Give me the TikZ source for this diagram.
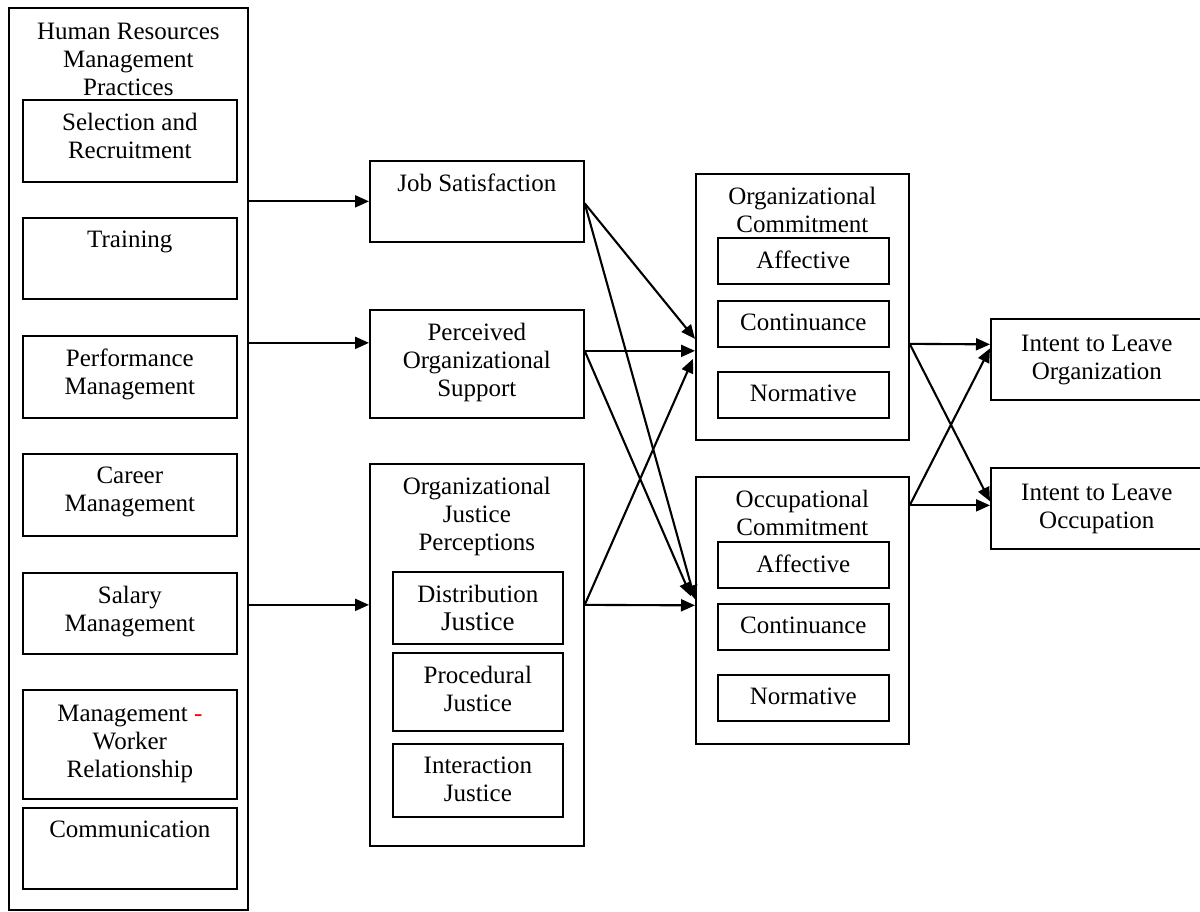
\documentclass[tikz,border=0pt]{standalone}
\usepackage{fontspec}
\setmainfont{Liberation Serif}
\usetikzlibrary{arrows.meta}

\begin{document}
\begin{tikzpicture}[x=1pt, y=-1pt,
  box/.style={draw, line width=1.7pt, inner sep=0pt, anchor=north west},
  txt/.style={font=\fontsize{25}{28}\selectfont, align=center, anchor=north, inner sep=0pt, yshift=-14pt},
  arr/.style={-{Triangle[length=14pt,width=12pt]}, line width=2.1pt}
]
\useasboundingbox (0,0) rectangle (1200,911);

% practices
\node[box, minimum width=239, minimum height=902, label={[txt, yshift=-2pt]north:{Human Resources\\Management\\Practices}}] (hr) at (8,7) {};
\node[box, minimum width=214, minimum height=82, label={[txt]north:{Selection and\\Recruitment}}] (sel) at (22,99) {};
\node[box, minimum width=214, minimum height=81, label={[txt]north:{Training}}] (train) at (22,217) {};
\node[box, minimum width=214, minimum height=82, label={[txt]north:{Performance\\Management}}] (perf) at (22,335) {};
\node[box, minimum width=214, minimum height=82, label={[txt]north:{Career\\Management}}] (career) at (22,453) {};
\node[box, minimum width=214, minimum height=81, label={[txt]north:{Salary\\Management}}] (salary) at (22,572) {};
\node[box, minimum width=214, minimum height=109, label={[txt, yshift=-2pt]north:{Management {\color{red}-}\\Worker\\Relationship}}] (mwr) at (22,689) {};
\node[box, minimum width=214, minimum height=81, label={[txt]north:{Communication}}] (comm) at (22,807) {};

% mediators
\node[box, minimum width=214, minimum height=81, label={[txt]north:{Job Satisfaction}}] (job) at (369,160) {};
\node[box, minimum width=214, minimum height=108, label={[txt]north:{Perceived\\Organizational\\Support}}] (pos) at (369,309) {};
\node[box, minimum width=214, minimum height=382, label={[txt]north:{Organizational\\Justice\\Perceptions}}] (ojp) at (369,463) {};
\node[box, minimum width=170, minimum height=72, label={[txt]north:{Distribution\\{\fontsize{27}{28}\selectfont Justice}}}] (dist) at (392,571) {};
\node[box, minimum width=170, minimum height=78, label={[txt]north:{Procedural\\Justice}}] (proc) at (392,652) {};
\node[box, minimum width=170, minimum height=73, label={[txt]north:{Interaction\\Justice}}] (inter) at (392,743) {};

% commitment
\node[box, minimum width=213, minimum height=266, label={[txt]north:{Organizational\\Commitment}}] (orgc) at (695,173) {};
\node[box, minimum width=171, minimum height=46, label={[txt]north:{Affective}}] (orgaff) at (717,237) {};
\node[box, minimum width=171, minimum height=46, label={[txt]north:{Continuance}}] (orgcont) at (717,300) {};
\node[box, minimum width=171, minimum height=46, label={[txt]north:{Normative}}] (orgnorm) at (717,371) {};
\node[box, minimum width=213, minimum height=267, label={[txt]north:{Occupational\\Commitment}}] (occc) at (695,476) {};
\node[box, minimum width=171, minimum height=46, label={[txt]north:{Affective}}] (occaff) at (717,541) {};
\node[box, minimum width=171, minimum height=46, label={[txt]north:{Continuance}}] (occcont) at (717,603) {};
\node[box, minimum width=171, minimum height=46, label={[txt]north:{Normative}}] (occnorm) at (717,674) {};

% outcomes
\node[box, minimum width=212, minimum height=81, label={[txt, yshift=-3pt]north:{Intent to Leave\\Organization}}] (ilorg) at (990,318) {};
\node[box, minimum width=212, minimum height=81, label={[txt, yshift=-3pt]north:{Intent to Leave\\Occupation}}] (ilocc) at (990,467) {};

\draw[arr] (hr.east |- job.west) -- (job.west);
\draw[arr] ([yshift=21pt]hr.east |- pos.west) -- ([yshift=21pt]pos.west);
\draw[arr] ([yshift=50pt]hr.east |- ojp.west) -- ([yshift=50pt]ojp.west);

\draw[arr] ([yshift=-2pt]job.east) -- ([yshift=-32pt]orgc.west);
\draw[arr] ([yshift=-2pt]job.east) -- ([yshift=11pt]occc.west);
\draw[arr] ([yshift=13pt]pos.east) -- ([yshift=-44pt]orgc.west);
\draw[arr] ([yshift=13pt]pos.east) -- ([xshift=-4pt, yshift=14pt]occc.west);
\draw[arr] ([yshift=50pt]ojp.east) -- ([xshift=-2pt, yshift=-52pt]orgc.west);
\draw[arr] ([yshift=50pt]ojp.east) -- ([yshift=5pt]occc.west);

\draw[arr] ([yshift=-37pt]orgc.east) -- ([yshift=15pt]ilorg.west);
\draw[arr] ([yshift=-37pt]orgc.east) -- ([yshift=7pt]ilocc.west);
\draw[arr] ([yshift=105pt]occc.east) -- ([yshift=3pt]ilocc.west);
\draw[arr] ([yshift=105pt]occc.east) -- ([yshift=11pt]ilorg.west);
\end{tikzpicture}
\end{document}
